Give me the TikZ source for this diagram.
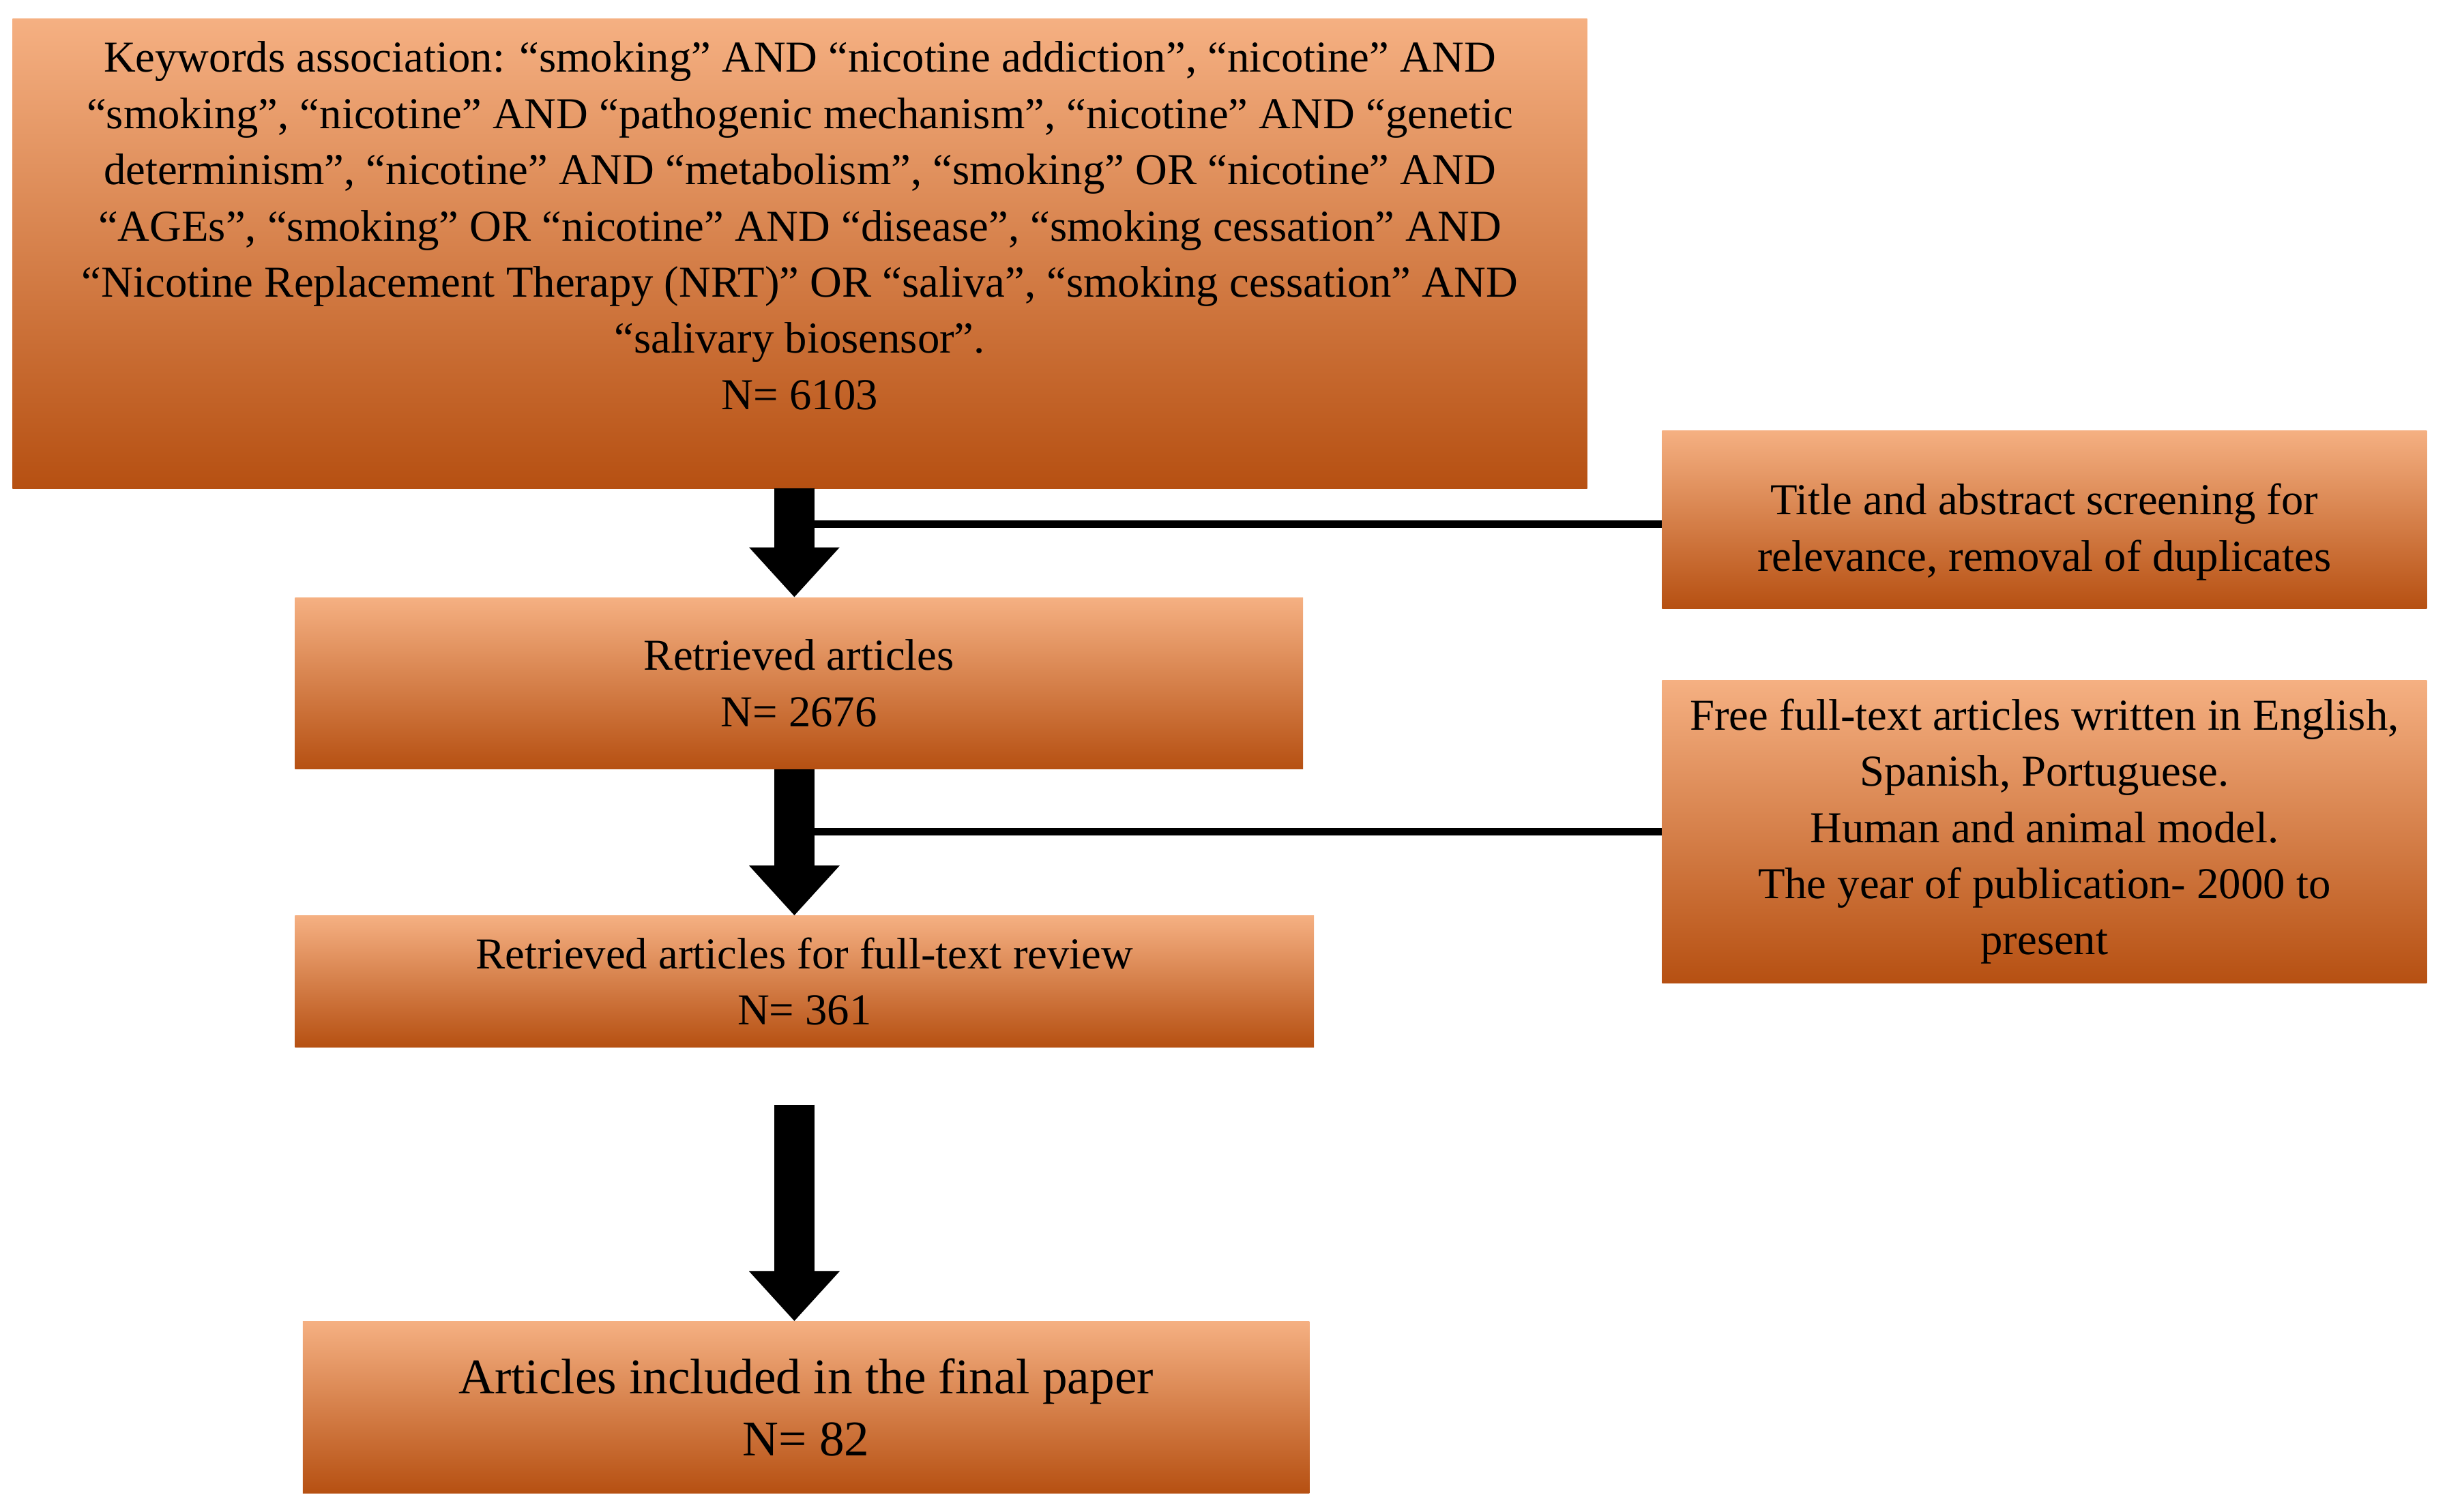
\documentclass[tikz,border=0pt]{standalone}
\usepackage{fontspec}
\setmainfont{Liberation Serif}
\usetikzlibrary{arrows.meta}
\begin{document}
\begin{tikzpicture}[x=1pt,y=-1pt,
box/.style={draw=none,top color={rgb,255:red,245;green,176;blue,130},bottom color={rgb,255:red,182;green,80;blue,18},
 inner sep=0pt,align=center,font=\fontsize{28.3}{36}\selectfont},
big/.style={line width=26pt,-{Triangle[width=56pt,length=32pt]}},
thin/.style={line width=5pt}]
\useasboundingbox (0,0) rectangle (1568,969);
\node[box,minimum width=1009,minimum height=301] (top) at (512.5,162.5) {Keywords association: “smoking” AND “nicotine addiction”, “nicotine” AND\\“smoking”, “nicotine” AND “pathogenic mechanism”, “nicotine” AND “genetic\\determinism”, “nicotine” AND “metabolism”, “smoking” OR “nicotine” AND\\“AGEs”, “smoking” OR “nicotine” AND “disease”, “smoking cessation” AND\\“Nicotine Replacement Therapy (NRT)” OR “saliva”, “smoking cessation” AND\\“salivary biosensor”.\\N= 6103\\\mbox{}};
\node[box,minimum width=490,minimum height=114] (r1) at (1310,333) {\mbox{}\\Title and abstract screening for\\relevance, removal of duplicates};
\node[box,minimum width=646,minimum height=110] (ret) at (512,438) {Retrieved articles\\N= 2676};
\node[box,minimum width=490,minimum height=194] (r2) at (1310,533) {Free full-text articles written in English,\\Spanish, Portuguese.\\Human and animal model.\\The year of publication- 2000 to\\present};
\node[box,minimum width=653,minimum height=84] (ft) at (515.5,629) {Retrieved articles for full-text review\\N= 361};
\node[box,minimum width=645,minimum height=110,font=\fontsize{32}{40}\selectfont] (fin) at (516.5,902) {Articles included in the final paper\\N= 82};
\coordinate (a1) at (509,313);
\coordinate (a2) at (509,493);
\coordinate (a3) at (509,708);
\draw[big] (a1) -- (a1 |- ret.north);
\draw[big] (a2) -- (a2 |- ft.north);
\draw[big] (a3) -- (a3 |- fin.north);
\draw[thin] ([yshift=-3]r1.west) -- ([yshift=-3]r1.west -| a1);
\draw[thin] (r2.west) -- (r2.west -| a1);
\end{tikzpicture}
\end{document}
